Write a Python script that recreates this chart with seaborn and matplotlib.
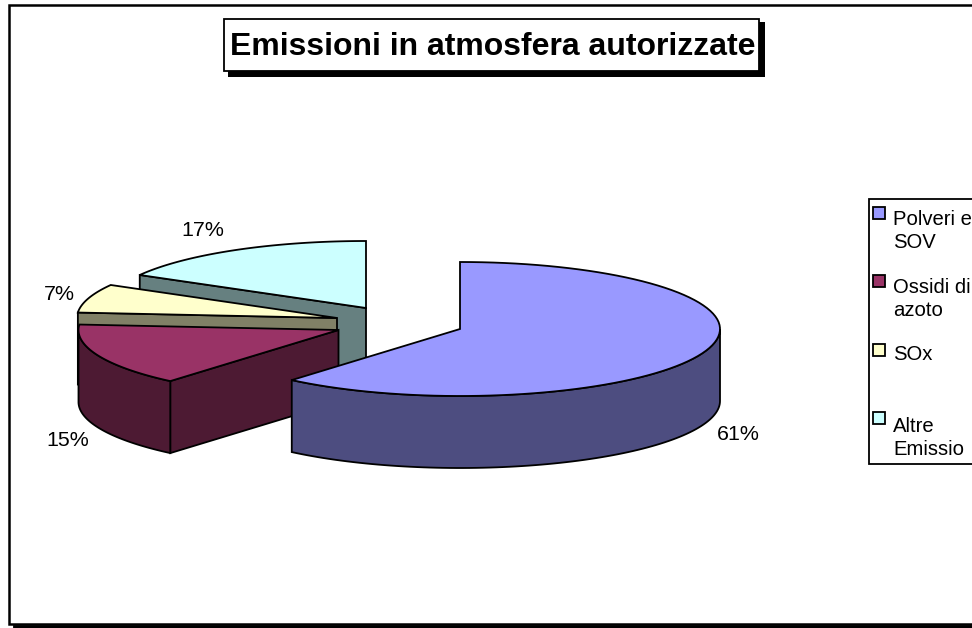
import numpy as np
import seaborn as sns
import matplotlib.pyplot as plt
from matplotlib.patches import Rectangle

# Data
categories = ["Polveri e\nSOV", "Ossidi di\nazoto", "SOx", "Altre\nEmissio"]
shares = [61.2, 15.1, 6.9, 16.8]
colors = ["#9999FF", "#993366", "#FFFFCC", "#CCFFFF"]

# Layout, in pixels of the picture
centers = [(460, 329), (338.5, 330), (337, 318), (366, 308)]
label_pos = [(738, 434), (68, 441), (59, 295), (203, 231)]
legend_text_y = [248, 316, 360, 455]
legend_key_y = [207, 275, 344, 412]
rx, ry, depth = 260, 67, 72

sns.set_theme(style="white")
plt.rcParams["font.family"] = ["Liberation Sans", "DejaVu Sans"]
palette = sns.color_palette(colors)

fig = plt.figure(figsize=(9.72, 6.28), dpi=100)
ax = fig.add_axes([0, 0, 1, 1])
ax.set_xlim(0, 972)
ax.set_ylim(628, 0)
ax.axis("off")


def rect(x0, y0, x1, y1, fc, ec="black", lw=1.3, z=1):
    ax.add_patch(Rectangle((x0, y0), x1 - x0, y1 - y0, fc=fc, ec=ec, lw=lw, zorder=z))


def arc(c, a0, a1):
    t = np.radians(np.linspace(a0, a1, 90))
    return c[0] + rx * np.sin(t), c[1] - ry * np.cos(t)


# Chart frame, it runs off the picture on the right
rect(14, 626, 985, 632, "black", z=1)
rect(8.5, 4.5, 985, 624, "white", lw=1.8, z=2)

# Slices, clockwise from 12 o'clock, drawn back to front
starts = np.cumsum([0] + shares[:-1]) * 3.6
ends = np.cumsum(shares) * 3.6
for i in [3, 2, 1, 0]:
    c, top = centers[i], palette[i]
    wall = tuple(np.array(top) * 0.5)
    a0, a1 = starts[i], ends[i]
    # wall of the cut edge facing the viewer
    if 180 < a0 < 360:
        ex, ey = arc(c, a0, a0)
        ax.fill([c[0], ex[0], ex[0], c[0]], [c[1], ey[0], ey[0] + depth, c[1] + depth],
                fc=wall, ec="black", lw=1.3, zorder=3)
    # outer wall, only the front half shows
    f0, f1 = max(a0, 90), min(a1, 270)
    if f0 < f1:
        wx, wy = arc(c, f0, f1)
        ax.fill(np.r_[wx, wx[::-1]], np.r_[wy, wy[::-1] + depth],
                fc=wall, ec="black", lw=1.3, zorder=3)
    x, y = arc(c, a0, a1)
    ax.fill(np.r_[c[0], x], np.r_[c[1], y], fc=top, ec="black", lw=1.3, zorder=3)

for v, (px, py) in zip(shares, label_pos):
    ax.text(px, py, f"{v:.0f}%", fontsize=15.4, color="black", ha="center", va="center", zorder=5)

# Title box with drop shadow
rect(228, 22, 765, 77, "black", lw=0, z=4)
rect(223.5, 18.5, 759, 71, "white", lw=1.3, z=4)
ax.text(492.5, 55, "Emissioni in atmosfera autorizzate", fontsize=23.0, fontweight="bold",
        color="black", ha="center", va="baseline", zorder=5)

# Legend box runs off the right edge as in the original
rect(868.5, 198.5, 985, 464, "white", lw=1.3, z=4)
for name, col, ty, ky in zip(categories, palette, legend_text_y, legend_key_y):
    rect(872.5, ky, 885, ky + 12, col, lw=1.3, z=5)
    ax.text(893, ty, name, fontsize=14.6, color="black", ha="left", va="baseline",
            linespacing=1.25, zorder=5)

fig.savefig("out.png", dpi=100)
